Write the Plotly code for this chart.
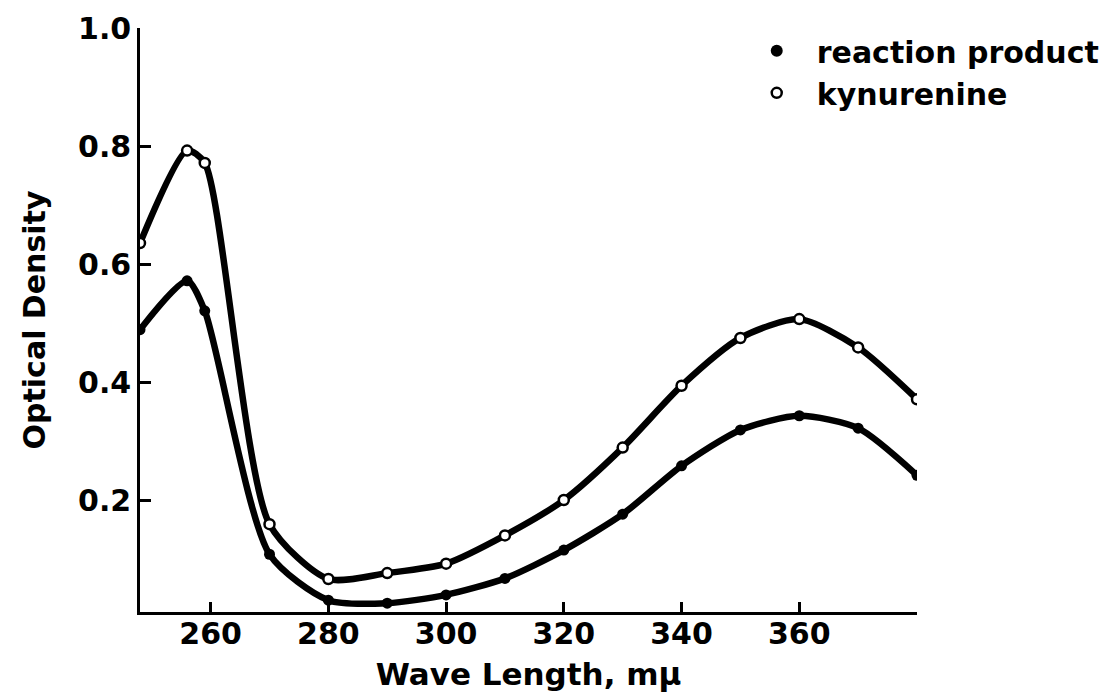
import plotly.graph_objects as go

# Data
wavelength = [248, 256, 259, 270, 280, 290, 300, 310, 320, 330, 340, 350, 360, 370, 380]
reaction_product = [0.489, 0.572, 0.521, 0.108, 0.030, 0.025, 0.039, 0.067, 0.115,
                    0.176, 0.258, 0.319, 0.343, 0.322, 0.242]
kynurenine = [0.636, 0.793, 0.772, 0.159, 0.066, 0.076, 0.092, 0.140, 0.200,
              0.289, 0.394, 0.475, 0.507, 0.459, 0.371]

x_ticks = [260, 280, 300, 320, 340, 360]
x_tick_labels = ["260", "280", "300", "320", "340", "360"]
y_ticks = [0.2, 0.4, 0.6, 0.8, 1.0]
y_tick_labels = ["0.2", "0.4", "0.6", "0.8", "1.0"]

FONT = "DejaVu Sans"
BLACK = "#000000"

fig = go.Figure()

# curves
fig.add_trace(go.Scatter(
    x=wavelength, y=reaction_product, mode="lines+markers", showlegend=False,
    line=dict(color=BLACK, width=6.5, shape="spline", smoothing=0.7),
    marker=dict(symbol="circle", size=11, color=BLACK, line=dict(color=BLACK, width=0)),
))
fig.add_trace(go.Scatter(
    x=wavelength, y=kynurenine, mode="lines+markers", showlegend=False,
    line=dict(color=BLACK, width=6.5, shape="spline", smoothing=0.7),
    marker=dict(symbol="circle", size=10, color="white", line=dict(color=BLACK, width=2.5)),
))

# legend entries (markers only, as in the reference)
fig.add_trace(go.Scatter(
    x=[None], y=[None], mode="markers", name="reaction product",
    marker=dict(symbol="circle", size=12, color=BLACK),
))
fig.add_trace(go.Scatter(
    x=[None], y=[None], mode="markers", name="kynurenine",
    marker=dict(symbol="circle", size=10, color="white", line=dict(color=BLACK, width=2.5)),
))

# the page body has an 8px margin: figure is sized/margined to compensate
fig.update_layout(
    width=1099, height=684,
    margin=dict(l=132, r=190, t=20, b=80, autoexpand=False),
    paper_bgcolor="white", plot_bgcolor="white",
    font=dict(family=FONT, color=BLACK, size=30, weight=700),
    legend=dict(
        x=0.768, y=0.925, xanchor="left", yanchor="middle",
        bgcolor="rgba(0,0,0,0)", borderwidth=0,
        font=dict(family=FONT, size=30, color=BLACK, weight=700),
        itemsizing="trace", tracegroupgap=0, itemwidth=70,
    ),
    xaxis=dict(
        range=[248, 380], tickmode="array", tickvals=x_ticks, ticktext=x_tick_labels,
        ticks="inside", ticklen=10, tickwidth=2.5, tickcolor=BLACK,
        showline=True, linewidth=2.5, linecolor=BLACK, mirror=False,
        showgrid=False, zeroline=False, automargin=False,
        ticklabelstandoff=-7,
        tickfont=dict(family=FONT, size=30, color=BLACK, weight=700),
        title=dict(text="Wave Length, m\u03bc", standoff=16,
                   font=dict(family=FONT, size=31, color=BLACK, weight=700)),
    ),
    yaxis=dict(
        range=[0.01, 1.001], tickmode="array", tickvals=y_ticks, ticktext=y_tick_labels,
        ticks="inside", ticklen=11, tickwidth=2.5, tickcolor=BLACK,
        showline=True, linewidth=2.5, linecolor=BLACK, mirror=False,
        showgrid=False, zeroline=False, automargin=False,
        tickfont=dict(family=FONT, size=30, color=BLACK, weight=700),
        title=dict(text="Optical Density", standoff=24,
                   font=dict(family=FONT, size=30, color=BLACK, weight=700)),
    ),
)

fig.write_html("out.html")
